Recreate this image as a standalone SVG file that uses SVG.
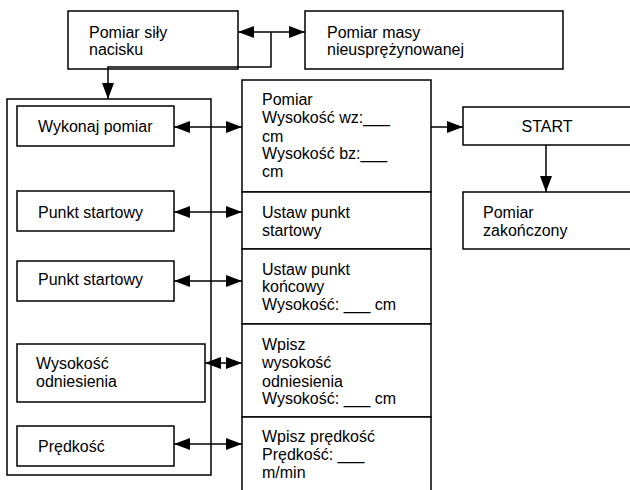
<svg xmlns="http://www.w3.org/2000/svg" width="630" height="490" viewBox="0 0 630 490">
<style>
rect{fill:#fff;stroke:#000;stroke-width:1.5}
text{font-family:"Liberation Sans",Arial,sans-serif;font-size:16px;fill:#000}
.c{fill:none;stroke:#000;stroke-width:1.5}
</style>
<defs>
<marker id="a" markerUnits="userSpaceOnUse" markerWidth="17" markerHeight="13" refX="16" refY="6" orient="auto-start-reverse"><path d="M0,0 L16,6 L0,12 z" fill="#000"/></marker>
</defs>
<g id="sila"><rect x="68" y="11" width="170" height="58"/><text x="89" y="38">Pomiar siły</text><text x="89" y="55">nacisku</text></g>
<g id="masa"><rect x="305" y="11" width="258" height="58"/><text x="327" y="38">Pomiar masy</text><text x="327" y="55">nieusprężynowanej</text></g>
<g id="menu"><rect x="7" y="99" width="204" height="376"/></g>
<g id="wykonaj"><rect x="17" y="106" width="157" height="40"/><text x="38" y="132">Wykonaj pomiar</text></g>
<g id="start1"><rect x="17" y="191" width="157" height="40"/><text x="38" y="218">Punkt startowy</text></g>
<g id="start2"><rect x="17" y="261" width="157" height="40"/><text x="38" y="285">Punkt startowy</text></g>
<g id="wysokosc"><rect x="17" y="344" width="188" height="58"/><text x="36" y="369">Wysokość</text><text x="36" y="387">odniesienia</text></g>
<g id="predkosc"><rect x="17" y="426" width="157" height="40"/><text x="38" y="452">Prędkość</text></g>
<g id="pomiar"><rect x="242" y="80" width="189" height="112"/><text x="262" y="105">Pomiar</text><text x="262" y="123">Wysokość wz:___</text><text x="262" y="142">cm</text><text x="262" y="159">Wysokość bz:___</text><text x="262" y="177">cm</text></g>
<g id="ustawstart"><rect x="242" y="192" width="189" height="57"/><text x="262" y="218">Ustaw punkt</text><text x="262" y="236">startowy</text></g>
<g id="ustawkoniec"><rect x="242" y="249" width="189" height="75"/><text x="262" y="275">Ustaw punkt</text><text x="262" y="292">końcowy</text><text x="262" y="310">Wysokość: ___ cm</text></g>
<g id="wpiszwys"><rect x="242" y="324" width="189" height="93"/><text x="262" y="350">Wpisz</text><text x="262" y="368">wysokość</text><text x="262" y="387">odniesienia</text><text x="262" y="404">Wysokość: ___ cm</text></g>
<g id="wpiszpred"><rect x="242" y="417" width="189" height="80"/><text x="262" y="442">Wpisz prędkość</text><text x="262" y="460">Prędkość: ___</text><text x="262" y="478">m/min</text></g>
<g id="startbtn"><rect x="463" y="107" width="170" height="38"/><text x="547" y="132" text-anchor="middle">START</text></g>
<g id="zakonczony"><rect x="463" y="192" width="170" height="57"/><text x="483" y="218">Pomiar</text><text x="483" y="236">zakończony</text></g>
<g id="connectors">
<path class="c" d="M238,32 H305" marker-start="url(#a)" marker-end="url(#a)"/>
<path class="c" d="M271,32 V67 H108 V99" marker-end="url(#a)"/>
<path class="c" d="M174,127 H242" marker-start="url(#a)" marker-end="url(#a)"/>
<path class="c" d="M174,212 H242" marker-start="url(#a)" marker-end="url(#a)"/>
<path class="c" d="M174,281 H242" marker-start="url(#a)" marker-end="url(#a)"/>
<path class="c" d="M205,363 H242" marker-start="url(#a)" marker-end="url(#a)"/>
<path class="c" d="M174,444 H242" marker-start="url(#a)" marker-end="url(#a)"/>
<path class="c" d="M431,127 H463" marker-end="url(#a)"/>
<path class="c" d="M546,145 V192" marker-end="url(#a)"/>
</g>
</svg>
